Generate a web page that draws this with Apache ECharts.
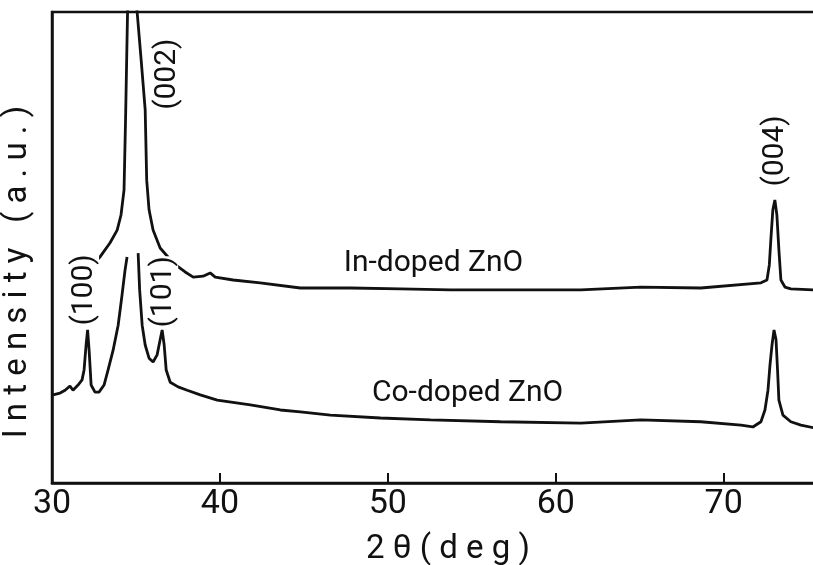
<!DOCTYPE html>
<html>
<head>
<meta charset="utf-8">
<script src="https://cdn.jsdelivr.net/npm/echarts@6/dist/echarts.min.js"></script>
<style>
  html, body { margin: 0; padding: 0; background: #fff; }
  #chart { width: 813px; height: 565px; }
</style>
</head>
<body>
<div id="chart"></div>
<script>
// In-doped ZnO trace: [2theta, intensity]
const inDoped = [
  [31.97, 44.8], [32.86, 48.0], [33.46, 51.0], [33.88, 53.7], [34.11, 56.9],
  [34.29, 62.2], [34.38, 77.1], [34.50, 100], [34.8, 130], [35.07, 100],
  [35.31, 89.8], [35.55, 79.2], [35.64, 64.3], [35.78, 58.0], [36.02, 53.7],
  [36.44, 49.9], [37.22, 46.7], [37.93, 44.8], [38.41, 43.7], [39.0, 43.9],
  [39.42, 44.6], [39.72, 43.7], [40.79, 43.1], [42.4, 42.5], [44.79, 41.4],
  [47.77, 41.4], [50.75, 41.2], [53.73, 41.0], [56.71, 41.0], [61.49, 41.0],
  [65.06, 41.6], [68.64, 41.4], [72.22, 42.5], [72.58, 43.1], [72.72, 46.3],
  [72.81, 51.6], [72.93, 58.0], [73.05, 60.1], [73.17, 56.9], [73.29, 49.5],
  [73.41, 43.1], [73.65, 41.6], [74.0, 41.2], [75.38, 41.0]
];

// Co-doped ZnO trace (top of the (002) peak is broken off)
const coDoped = [
  [30.06, 18.7], [30.48, 19.1], [30.78, 19.7], [31.07, 20.6], [31.25, 19.7],
  [31.55, 20.8], [31.79, 21.9], [31.91, 24.0], [32.03, 29.3], [32.12, 32.5],
  [32.21, 28.2], [32.33, 20.8], [32.56, 19.3], [32.80, 19.3], [33.1, 20.8],
  [33.34, 24.0], [33.64, 28.2], [33.94, 33.5], [34.17, 39.9], [34.35, 45.2],
  [34.47, 48.0], [34.8, null], [35.13, 48.8], [35.22, 41.0], [35.37, 33.5],
  [35.55, 29.3], [35.78, 26.5], [36.02, 25.7], [36.26, 27.2], [36.44, 30.4],
  [36.56, 32.5], [36.68, 29.3], [36.80, 24.0], [37.04, 21.4], [37.51, 20.4],
  [38.05, 19.7], [38.83, 18.7], [39.84, 17.6], [41.81, 16.6], [43.6, 15.5],
  [44.79, 15.1], [46.58, 14.4], [49.56, 13.8], [52.54, 13.4], [56.71, 13.0],
  [61.49, 12.7], [65.06, 13.4], [68.64, 13.0], [71.03, 12.3], [71.74, 11.9],
  [72.22, 13.0], [72.46, 15.5], [72.64, 19.7], [72.76, 25.1], [72.88, 29.3],
  [73.0, 32.5], [73.12, 30.4], [73.21, 24.0], [73.29, 17.6], [73.53, 14.4],
  [74.0, 13.0], [74.6, 12.3], [75.38, 11.7]
];

// annotation texts and where they sit (data units)
const peakLabels = ["(002)", "(100)", "(101)", "(004)"];
const peakPos = [[36.86, 86.8], [31.91, 41.0], [36.62, 40.6], [73.11, 70.5]];
const sampleLabels = ["In-doped ZnO", "Co-doped ZnO"];
const samplePos = [[52.72, 46.7], [54.75, 19.1]];

const font = "Roboto";
const ink = "#111";

const myChart = echarts.init(document.getElementById("chart"));

const textData = [];
peakLabels.forEach((t, i) => {
  textData.push({
    name: t,
    value: peakPos[i],
    label: { rotate: 90, fontSize: 30 }
  });
});
sampleLabels.forEach((t, i) => {
  textData.push({
    name: t,
    value: samplePos[i],
    label: { rotate: 0, fontSize: 30 }
  });
});

myChart.setOption({
  animation: false,
  backgroundColor: "#fff",
  grid: {
    left: 52,
    right: -3,
    top: 12,
    bottom: 82,
    outerBoundsMode: "none",
    containLabel: false,
    show: true,
    borderColor: ink,
    borderWidth: 2.5
  },
  xAxis: {
    type: "value",
    min: 30,
    max: 75.5,
    interval: 10,
    name: "2 θ ( d e g )",
    nameLocation: "middle",
    nameGap: 50,
    nameTextStyle: { fontFamily: font, fontSize: 33, color: ink, padding: [0, 0, 0, 28] },
    axisLine: { show: true, lineStyle: { color: ink, width: 2.5 } },
    axisTick: { show: true, inside: true, length: 10, lineStyle: { color: ink, width: 2 } },
    axisLabel: {
      fontFamily: font, fontSize: 34, color: ink, margin: 4,
      showMaxLabel: false
    },
    splitLine: { show: false }
  },
  yAxis: {
    type: "value",
    min: 0,
    max: 100,
    name: "I n t e n s i t y   ( a . u . )      ",
    nameLocation: "middle",
    nameGap: 18,
    nameTextStyle: { fontFamily: font, fontSize: 33, color: ink },
    axisLine: { show: true, lineStyle: { color: ink, width: 2.5 } },
    axisTick: { show: false },
    axisLabel: { show: false },
    splitLine: { show: false }
  },
  series: [
    {
      name: "In-doped ZnO",
      type: "line",
      data: inDoped,
      symbol: "none",
      clip: true,
      lineStyle: { color: ink, width: 2.8 }
    },
    {
      name: "Co-doped ZnO",
      type: "line",
      data: coDoped,
      symbol: "none",
      connectNulls: false,
      clip: true,
      lineStyle: { color: ink, width: 2.8 }
    },
    {
      type: "scatter",
      symbolSize: 0,
      data: textData,
      z: 5,
      itemStyle: { opacity: 1 },
      label: {
        show: true,
        position: "inside",
        formatter: (p) => p.name,
        fontFamily: font,
        fontWeight: "normal",
        color: ink,
        opacity: 1,
        backgroundColor: "#fff"
      }
    }
  ]
});
</script>
</body>
</html>
